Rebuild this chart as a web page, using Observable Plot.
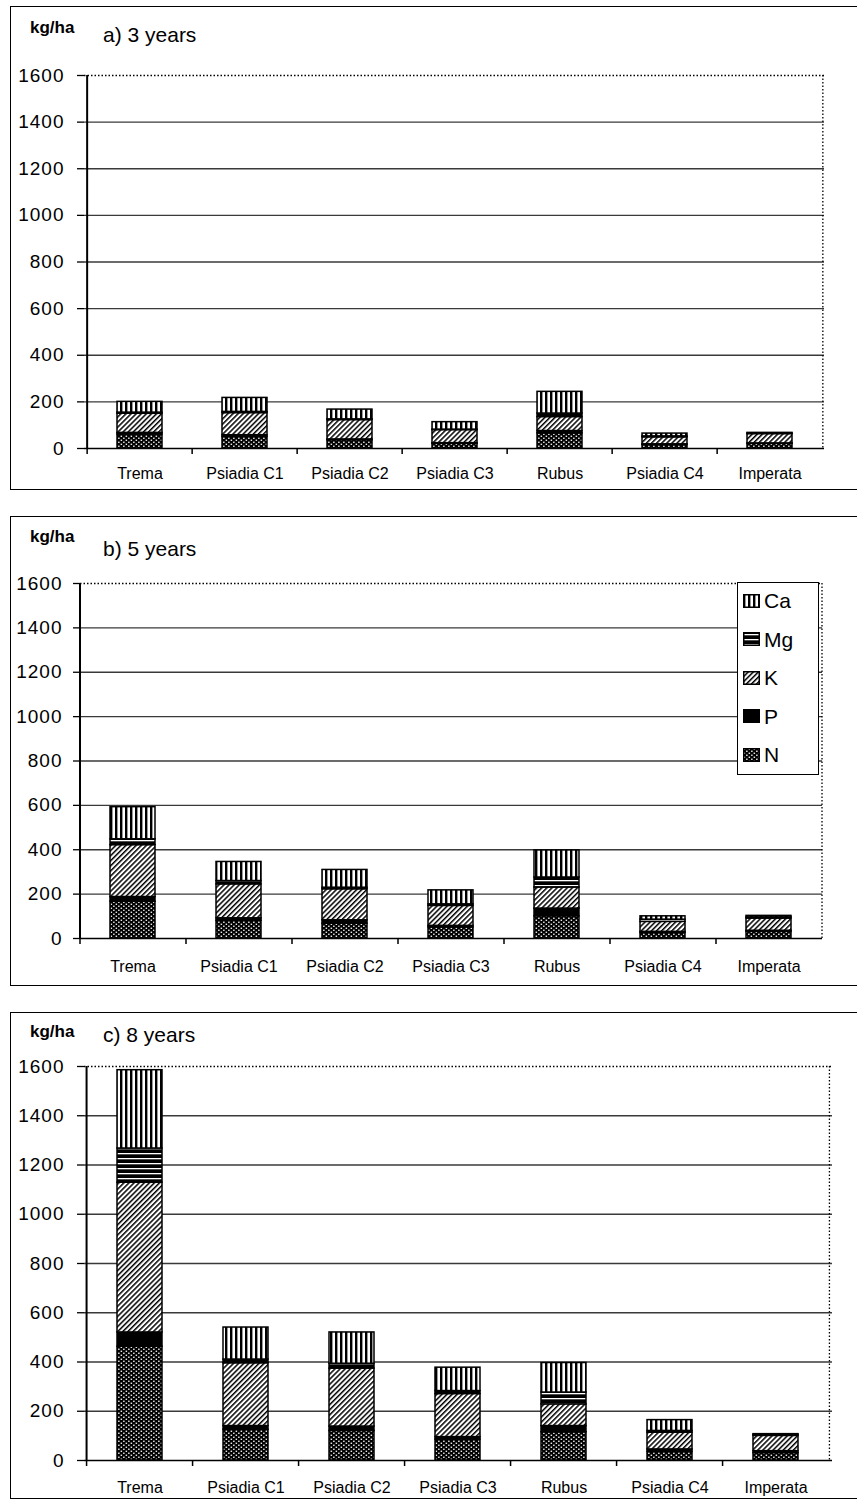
<!DOCTYPE html>
<html><head><meta charset="utf-8">
<script src="https://cdn.jsdelivr.net/npm/d3@7"></script>
<script src="https://cdn.jsdelivr.net/npm/@observablehq/plot@0.6"></script>
<style>
body{margin:0;background:#fff;}
#root{position:relative;width:857px;height:1500px;overflow:hidden;font-family:"Liberation Sans",Arial,sans-serif;background:#fff;}
.frame{position:absolute;border:1.5px solid #000;box-sizing:border-box;}
.t{position:absolute;color:#000;white-space:nowrap;line-height:1;z-index:3}
.unit{font-weight:bold;font-size:17px}
.title{font-size:21px}
.plotbox{position:absolute;left:0;z-index:1}
.legend{position:absolute;border:1.5px solid #000;background:#fff;box-sizing:border-box;z-index:2}
.legend .row{position:absolute;left:5px;display:flex;align-items:center;font-size:21px;line-height:1}
.legend svg{margin-right:4px}
#root g[aria-label="y-axis tick label"] text{letter-spacing:1px}
</style></head><body>
<svg width="0" height="0" style="position:absolute">
 <defs>
  <pattern id="pat-Ca" patternUnits="userSpaceOnUse" width="5" height="5">
   <rect width="5" height="5" fill="#fff"/>
   <rect x="0" width="2.4" height="5" fill="#000"/>
  </pattern>
  <pattern id="pat-Mg" patternUnits="userSpaceOnUse" width="5" height="5">
   <rect width="5" height="5" fill="#000"/>
   <rect y="2" width="5" height="1.3" fill="#fff"/>
  </pattern>
  <pattern id="pat-K" patternUnits="userSpaceOnUse" width="3.6" height="3.6" patternTransform="rotate(45)">
   <rect width="3.6" height="3.6" fill="#fff"/>
   <rect width="1.5" height="3.6" fill="#000"/>
  </pattern>
  <pattern id="pat-N" patternUnits="userSpaceOnUse" width="5" height="4">
   <rect width="5" height="4" fill="#000"/>
   <rect x="0.6" y="0.6" width="1.5" height="1.3" fill="#fff"/>
   <rect x="3.1" y="2.6" width="1.5" height="1.3" fill="#fff"/>
  </pattern>
 </defs>
</svg>
<div id="root"></div>
<script>
const species = ["Trema", "Psiadia C1", "Psiadia C2", "Psiadia C3", "Rubus", "Psiadia C4", "Imperata"];
const nutrients = ["N", "P", "K", "Mg", "Ca"];
const legendOrder = ["Ca", "Mg", "K", "P", "N"];
const yTicks = [0, 200, 400, 600, 800, 1000, 1200, 1400, 1600];
const gridTicks = [200, 400, 600, 800, 1000, 1200, 1400];

// a) 3 years
const a_N  = [60, 50, 35, 20, 65, 15, 20];
const a_P  = [7, 7, 4, 3, 10, 3, 2];
const a_K  = [82, 95, 83, 56, 60, 30, 40];
const a_Mg = [5, 5, 3, 2, 15, 4, 2];
const a_Ca = [46, 60, 42, 32, 93, 12, 3];
// b) 5 years
const b_N  = [166, 80, 67, 50, 100, 25, 30];
const b_P  = [21, 11, 15, 7, 35, 5, 5];
const b_K  = [234, 153, 140, 90, 95, 45, 55];
const b_Mg = [26, 15, 7, 7, 45, 10, 5];
const b_Ca = [145, 86, 80, 63, 122, 15, 7];
// c) 8 years
const c_N  = [462, 125, 120, 85, 115, 35, 30];
const c_P  = [58, 15, 18, 10, 25, 10, 8];
const c_K  = [608, 255, 235, 175, 88, 68, 62];
const c_Mg = [139, 15, 20, 12, 48, 7, 4];
const c_Ca = [318, 130, 127, 95, 120, 44, 3];

const fills = {N: "url(#pat-N)", P: "#000", K: "url(#pat-K)", Mg: "url(#pat-Mg)", Ca: "url(#pat-Ca)"};

function rowsOf(series) {
  const rows = [];
  species.forEach((s, i) => {
    nutrients.forEach(n => rows.push({species: s, nutrient: n, value: series[n][i]}));
  });
  return rows;
}

const root = document.getElementById("root");
const W = 857;

function addText(cls, txt, left, cy, size) {
  const d = document.createElement("div");
  d.className = "t " + cls;
  d.textContent = txt;
  d.style.left = left + "px";
  d.style.top = (cy - size / 2) + "px";
  root.appendChild(d);
}

function panel(cfg) {
  const fr = document.createElement("div");
  fr.className = "frame";
  fr.style.left = "10px";
  fr.style.top = cfg.frameTop + "px";
  fr.style.width = (W - 10 + 2) + "px";
  fr.style.height = (cfg.frameBottom - cfg.frameTop) + "px";
  root.appendChild(fr);

  addText("unit", "kg/ha", 30, cfg.unitY, 17);
  addText("title", cfg.title, cfg.titleX, cfg.titleY, 21);

  const step = (W - cfg.ml - cfg.mr) / species.length;
  const chart = Plot.plot({
    width: W, height: cfg.height,
    marginLeft: cfg.ml, marginRight: cfg.mr, marginTop: cfg.mt, marginBottom: cfg.mb,
    style: {background: "none", fontFamily: "Liberation Sans, Arial, sans-serif", color: "#000", overflow: "visible"},
    x: {domain: species, paddingInner: 0.575, paddingOuter: 0.2875, label: null},
    y: {domain: [0, 1600], label: null},
    color: {type: "ordinal", domain: nutrients, range: nutrients.map(n => fills[n])},
    marks: [
      Plot.ruleY(gridTicks, {stroke: "#3a3a3a", strokeWidth: 1.4}),
      Plot.ruleY([1600], {stroke: "#000", strokeWidth: 1.3, strokeDasharray: "1.5,2"}),
      Plot.ruleX([species[species.length - 1]], {dx: step / 2, stroke: "#000", strokeWidth: 1.3, strokeDasharray: "1.5,2"}),
      Plot.barY(rowsOf(cfg.series), Plot.stackY({x: "species", y: "value", fill: "nutrient", stroke: "#000", strokeWidth: 1.5})),
      Plot.ruleY([0], {stroke: "#000", strokeWidth: 1.6}),
      Plot.ruleX([species[0]], {dx: -step / 2, stroke: "#000", strokeWidth: 2}),
      Plot.axisY({ticks: yTicks, tickFormat: d => String(d), tickSize: 7, tickPadding: cfg.ypad, fontSize: 19, label: null, stroke: "#000", strokeWidth: 1.3}),
      Plot.axisX({tickSize: 6, dx: -step / 2, tickFormat: () => "", label: null, stroke: "#000", strokeWidth: 1.5}),
      Plot.axisX({tickSize: 0, tickPadding: cfg.xpad, fontSize: 16, label: null})
    ]
  });
  const box = document.createElement("div");
  box.className = "plotbox";
  box.style.top = cfg.svgTop + "px";
  box.appendChild(chart);
  root.appendChild(box);
}

panel({
  title: "a) 3 years", frameTop: 6, frameBottom: 490, unitY: 27, titleY: 34, titleX: 103,
  svgTop: 55, height: 433, ml: 84, mr: 33, mt: 20, mb: 40, ypad: 13, xpad: 19,
  series: {N: a_N, P: a_P, K: a_K, Mg: a_Mg, Ca: a_Ca}
});
panel({
  title: "b) 5 years", frameTop: 516, frameBottom: 986, unitY: 536, titleY: 548, titleX: 103,
  svgTop: 563, height: 415, ml: 80, mr: 35, mt: 20, mb: 40, ypad: 11, xpad: 22,
  series: {N: b_N, P: b_P, K: b_K, Mg: b_Mg, Ca: b_Ca}
});
panel({
  title: "c) 8 years", frameTop: 1012, frameBottom: 1499, unitY: 1031, titleY: 1034, titleX: 103,
  svgTop: 1046, height: 452, ml: 84, mr: 25, mt: 20, mb: 38, ypad: 13, xpad: 21,
  series: {N: c_N, P: c_P, K: c_K, Mg: c_Mg, Ca: c_Ca}
});

// legend (panel b)
const lg = document.createElement("div");
lg.className = "legend";
lg.style.left = "737px"; lg.style.top = "582px";
lg.style.width = "82px"; lg.style.height = "193px";
legendOrder.forEach((n, i) => {
  const r = document.createElement("div");
  r.className = "row";
  r.style.top = (7 + i * 38.5) + "px";
  r.innerHTML = `<svg width="17" height="14"><rect x="0.75" y="0.75" width="15.5" height="12.5" fill="${fills[n]}" stroke="#000" stroke-width="1.5"/></svg><span>${n}</span>`;
  lg.appendChild(r);
});
root.appendChild(lg);
</script>
</body></html>
